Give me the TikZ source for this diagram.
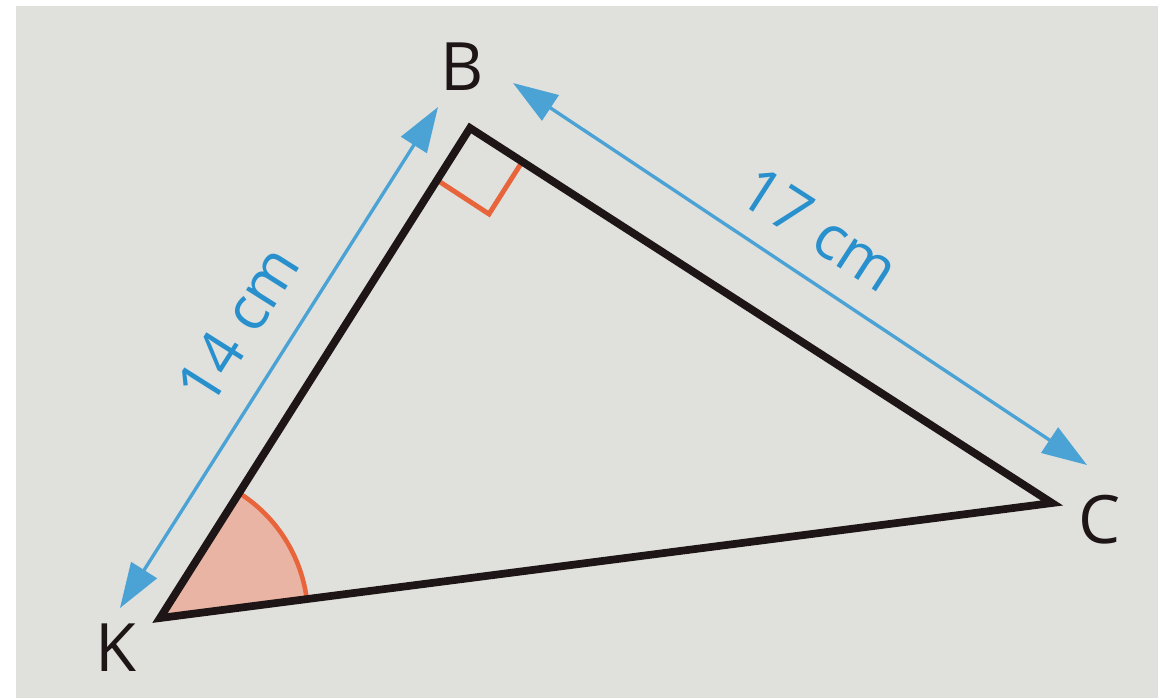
\documentclass[tikz,border=0pt]{standalone}
\usepackage{fontspec}
\setmainfont{Open Sans}
\usetikzlibrary{arrows.meta}
\definecolor{paper}{RGB}{224,224,221}
\definecolor{inkblack}{RGB}{30,22,22}
\definecolor{dimblue}{RGB}{75,162,212}
\definecolor{textblue}{RGB}{40,145,205}
\definecolor{markorange}{RGB}{232,100,58}
\definecolor{anglefill}{RGB}{234,180,164}
\tikzset{
  side/.style={draw=inkblack, line width=4.4pt, line join=miter},
  dimarrow/.style={draw=dimblue, line width=1.9pt,
    {Triangle[length=0.9cm,width=0.6cm]}-{Triangle[length=0.9cm,width=0.6cm]}},
  vertexlabel/.style={font=\fontsize{38}{40}\selectfont, text=inkblack, inner sep=0pt},
  dimlabel/.style={font=\fontsize{35}{38}\selectfont, text=textblue, inner sep=0pt},
  rightmark/.style={draw=markorange, line width=2.8pt, line join=miter},
}
\begin{document}
\begin{tikzpicture}[x=0.02cm,y=-0.02cm]
\useasboundingbox (0,0) rectangle (1168,698);
\fill[white] (0,0) rectangle (1168,698);
\fill[paper] (16,6) rectangle (1158,698);
% vertices
\coordinate (K) at (160,618);
\coordinate (B) at (470,128);
\coordinate (C) at (1052,503);
% angle at K
\fill[anglefill] (K) -- ++(7.35:2.96cm) arc[start angle=7.35, end angle=57.67, radius=2.96cm] -- cycle;
\draw[markorange, line width=2.6pt] (K) ++(7.35:2.96cm) arc[start angle=7.35, end angle=57.67, radius=2.96cm];
% right angle marker at B
\coordinate (m1) at (437,180);
\coordinate (m2) at (489,214);
\coordinate (m3) at (522,162);
\draw[rightmark] (m1) -- (m2) -- (m3);
% triangle
\draw[side] (K) -- (B) -- (C) -- cycle;
% dimension arrows
\coordinate (a1) at (120,608);
\coordinate (a2) at (438,107);
\coordinate (b1) at (513,83);
\coordinate (b2) at (1087,465);
\draw[dimarrow] (a1) -- (a2);
\draw[dimarrow] (b1) -- (b2);
% labels
\node[vertexlabel] (lB) at (462,67) {B};
\node[vertexlabel] (lC) at (1100,520) {C};
\node[vertexlabel] (lK) at (116,648) {K};
\node[dimlabel, rotate=57.7] (l14) at (238,325) {14 cm};
\node[dimlabel, rotate=-32.8] (l17) at (820,229) {17 cm};
\end{tikzpicture}
\end{document}
